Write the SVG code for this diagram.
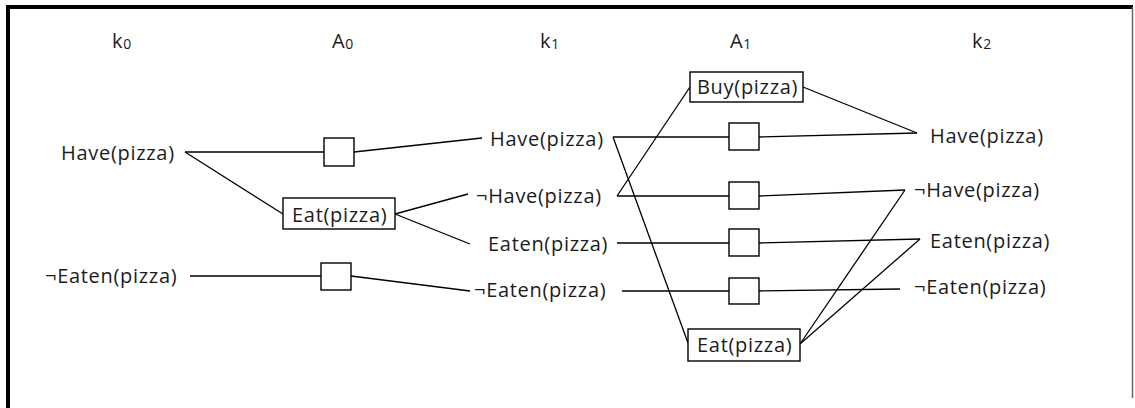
<svg xmlns="http://www.w3.org/2000/svg" width="1135" height="408" viewBox="0 0 1135 408">
<style>
text{font-family:"Open Sans","Noto Sans",sans-serif;font-size:20px;fill:#1c1c1c;letter-spacing:0.7px}
.sub{font-size:14px}
.box{fill:#fff;stroke:#000;stroke-width:1.4}
.c line{stroke:#000;stroke-width:1.3}
</style>
<rect x="0" y="0" width="1135" height="408" fill="#fff"/>
<path d="M8,408 V7 H1133" fill="none" stroke="#000" stroke-width="4"/>
<line x1="1132.5" y1="7" x2="1132.5" y2="398" stroke="#666" stroke-width="1.5"/>
<g id="headers">
<text x="112" y="48">k<tspan class="sub" dy="1">0</tspan></text>
<text x="332" y="48">A<tspan class="sub" dy="1">0</tspan></text>
<text x="540" y="48">k<tspan class="sub" dy="1">1</tspan></text>
<text x="730" y="48">A<tspan class="sub" dy="1">1</tspan></text>
<text x="972" y="48">k<tspan class="sub" dy="1">2</tspan></text>
</g>
<g id="connectors" class="c">
<line x1="185" y1="152" x2="324" y2="152"/>
<line x1="354" y1="152" x2="482" y2="138"/>
<line x1="185" y1="152" x2="283" y2="214"/>
<line x1="395" y1="214" x2="468" y2="194"/>
<line x1="395" y1="214" x2="470" y2="244"/>
<line x1="190" y1="276" x2="321" y2="276"/>
<line x1="351" y1="276" x2="470" y2="291"/>
<line x1="613" y1="137" x2="729" y2="137"/>
<line x1="613" y1="137" x2="688" y2="343"/>
<line x1="617" y1="196" x2="729" y2="196"/>
<line x1="617" y1="196" x2="690" y2="87"/>
<line x1="617" y1="243" x2="729" y2="243"/>
<line x1="622" y1="291" x2="729" y2="291"/>
<line x1="803" y1="87" x2="917" y2="133"/>
<line x1="759" y1="137" x2="917" y2="133"/>
<line x1="759" y1="196" x2="905" y2="190"/>
<line x1="759" y1="243" x2="920" y2="239"/>
<line x1="759" y1="291" x2="900" y2="289"/>
<line x1="800" y1="344" x2="905" y2="190"/>
<line x1="800" y1="344" x2="920" y2="239"/>
</g>
<g id="k0-have"><text x="61" y="160">Have(pizza)</text></g>
<g id="k0-not-eaten"><text x="45" y="283">¬Eaten(pizza)</text></g>
<g id="a0-noop-have"><rect class="box" x="324" y="138" width="30" height="28"/></g>
<g id="a0-eat"><rect class="box" x="283" y="198" width="112" height="31"/><text x="292" y="222">Eat(pizza)</text></g>
<g id="a0-noop-eaten"><rect class="box" x="321" y="263" width="30" height="27"/></g>
<g id="k1-have"><text x="490" y="146">Have(pizza)</text></g>
<g id="k1-not-have"><text x="476" y="203">¬Have(pizza)</text></g>
<g id="k1-eaten"><text x="488" y="251">Eaten(pizza)</text></g>
<g id="k1-not-eaten"><text x="474" y="297">¬Eaten(pizza)</text></g>
<g id="a1-buy"><rect class="box" x="690" y="72" width="113" height="30"/><text x="697" y="94">Buy(pizza)</text></g>
<g id="a1-noop-have"><rect class="box" x="729" y="123" width="30" height="27"/></g>
<g id="a1-noop-not-have"><rect class="box" x="729" y="182" width="30" height="27"/></g>
<g id="a1-noop-eaten"><rect class="box" x="729" y="229" width="30" height="27"/></g>
<g id="a1-noop-not-eaten"><rect class="box" x="729" y="278" width="30" height="26"/></g>
<g id="a1-eat"><rect class="box" x="688" y="329" width="112" height="32"/><text x="697" y="352">Eat(pizza)</text></g>
<g id="k2-have"><text x="930" y="143">Have(pizza)</text></g>
<g id="k2-not-have"><text x="914" y="197">¬Have(pizza)</text></g>
<g id="k2-eaten"><text x="930" y="248">Eaten(pizza)</text></g>
<g id="k2-not-eaten"><text x="914" y="294">¬Eaten(pizza)</text></g>
</svg>
